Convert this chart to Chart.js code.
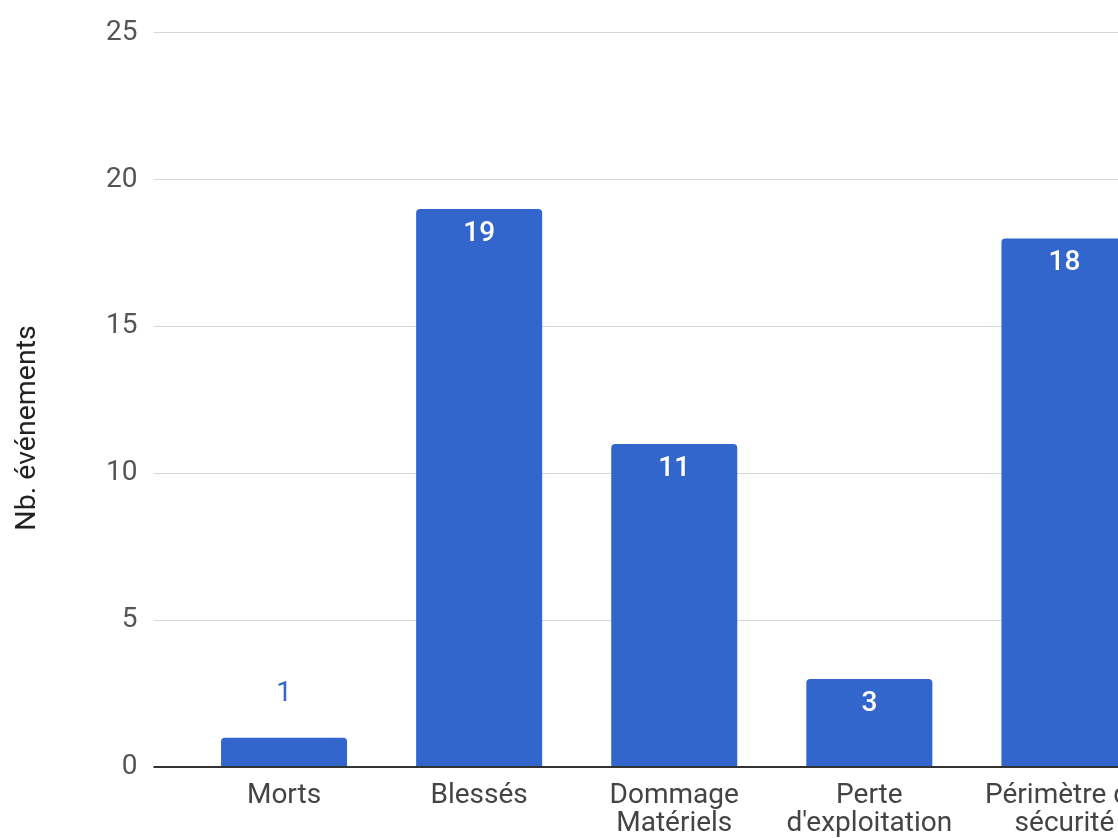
<!DOCTYPE html>
<html>
<head>
<meta charset="utf-8">
<title>Nb. événements</title>
<script src="https://cdn.jsdelivr.net/npm/chart.js@4.4.1/dist/chart.umd.min.js"></script>
<style>
  html, body { margin: 0; padding: 0; background: #fff; overflow: hidden; }
  #wrap { width: 1162px; height: 838px; position: relative; }
</style>
</head>
<body>
<div id="wrap"><canvas id="eventsChart"></canvas></div>
<script>
// data (the last category is cut by the right edge)
const categories = [
  ['Morts'],
  ['Blessés'],
  ['Dommage', 'Matériels'],
  ['Perte', "d'exploitation"],
  ['Périmètre de', 'sécurité']
];
const eventCounts = [1, 19, 11, 3, 18];
const yTicks = [0, 5, 10, 15, 20, 25];
const yTitle = 'Nb. événements';

const barColor = '#3366cc';
const fontFamily = 'Roboto, "Open Sans", Arial, sans-serif';

// value labels: white inside tall bars, blue above short ones
const valueLabels = {
  id: 'valueLabels',
  afterDatasetsDraw(chart) {
    const ctx = chart.ctx;
    const meta = chart.getDatasetMeta(0);
    ctx.save();
    ctx.textAlign = 'center';
    ctx.textBaseline = 'middle';
    meta.data.forEach((bar, i) => {
      const value = eventCounts[i];
      const h = bar.base - bar.y;
      if (h > 50) {
        ctx.font = '500 28px ' + fontFamily;
        ctx.fillStyle = '#ffffff';
        ctx.fillText(String(value), bar.x, bar.y + 25);
      } else {
        ctx.font = '400 28px ' + fontFamily;
        ctx.fillStyle = barColor;
        ctx.fillText(String(value), bar.x, bar.y - 44);
      }
    });
    ctx.restore();
  }
};

// y axis title, placed like the original (a bit below the axis centre)
const axisTitle = {
  id: 'axisTitle',
  afterDraw(chart) {
    const ctx = chart.ctx;
    ctx.save();
    ctx.translate(28, 428);
    ctx.rotate(-Math.PI / 2);
    ctx.font = '400 28.5px ' + fontFamily;
    ctx.fillStyle = '#222222';
    ctx.textAlign = 'center';
    ctx.textBaseline = 'middle';
    ctx.fillText(yTitle, 0, 0);
    ctx.restore();
  }
};

const ctx = document.getElementById('eventsChart');

new Chart(ctx, {
  type: 'bar',
  data: {
    labels: categories,
    datasets: [{
      label: yTitle,
      data: eventCounts,
      backgroundColor: barColor,
      borderWidth: 0,
      borderRadius: { topLeft: 4, topRight: 4, bottomLeft: 0, bottomRight: 0 },
      borderSkipped: 'start',
      categoryPercentage: 1,
      barPercentage: 0.646
    }]
  },
  options: {
    responsive: true,
    maintainAspectRatio: false,
    animation: false,
    layout: { padding: { top: 30, right: 0, bottom: 0, left: 0 } },
    plugins: {
      legend: { display: false },
      tooltip: { enabled: false }
    },
    scales: {
      x: {
        grid: { display: false, drawTicks: false },
        border: { display: false },
        ticks: {
          padding: 15,
          color: '#444444',
          maxRotation: 0,
          autoSkip: false,
          font: { family: fontFamily, size: 28, lineHeight: '28px' }
        },
        afterFit(scale) { scale.height = 71; }
      },
      y: {
        min: yTicks[0],
        max: yTicks[yTicks.length - 1],
        afterBuildTicks(scale) {
          scale.ticks = yTicks.map(v => ({ value: v }));
        },
        grid: {
          color: c => (c.tick && c.tick.value === 0 ? '#333333' : '#d6d6d6'),
          lineWidth: c => (c.tick && c.tick.value === 0 ? 2 : 1),
          tickLength: 33
        },
        border: { display: false },
        ticks: {
          padding: 16,
          color: '#555555',
          font: { family: fontFamily, size: 28 }
        },
        afterFit(scale) { scale.width = 186.5; }
      }
    }
  },
  plugins: [valueLabels, axisTitle]
});
</script>
</body>
</html>
